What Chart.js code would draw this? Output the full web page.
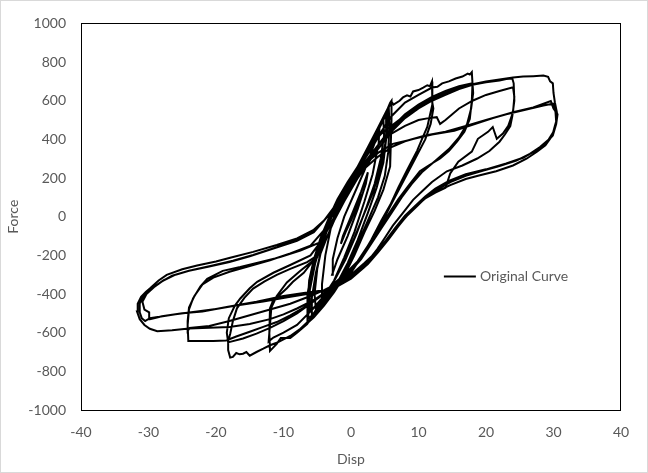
<!DOCTYPE html>
<html>
<head>
<meta charset="utf-8">
<script src="https://cdn.jsdelivr.net/npm/chart.js@4.4.0/dist/chart.umd.min.js"></script>
<style>
    html, body { margin: 0; padding: 0; background: #fff; }
    #wrap { width: 648px; height: 473px; }
</style>
</head>
<body>
<div id="wrap"><canvas id="chart-hysteresis" width="648" height="473"></canvas></div>
<script>
// [disp, force] pairs, one array per amplitude level
const loopSmall = [
    [0, 0], [0.8, 60], [1.5, 120], [1.2, 80], [0, -20], [-0.8, -80], [-1.5, -140], [-1.2, -100], [0, 0],
    [1.5, 130], [2.5, 230], [2.2, 170], [1, 40], [-0.5, -100], [-2, -220], [-2.8, -300], [-2.7, -220], [-2, -110], [-1, 0], [0.5, 120],
    [2, 240], [3.5, 380], [4.2, 450], [4.1, 380], [3.2, 220], [2, 80], [0.5, -80], [-1, -210], [-2.5, -330], [-3.8, -420], [-4.3, -450], [-4.3, -350], [-3.8, -200], [-3, -60], [-2, 60], [-0.5, 160],
    [1, 230], [2.5, 340], [3.8, 430], [4.8, 500], [4.9, 420], [4.4, 300], [3.5, 170], [2.2, 40], [0.8, -90], [-0.8, -220], [-2.3, -320], [-3.8, -410], [-5.2, -480], [-5.4, -400], [-5, -270], [-4.2, -140], [-3.2, -30], [-2, 70], [-0.5, 170],
    [1.5, 280], [3, 390], [4.5, 490], [5.3, 530], [5.2, 400], [4.8, 280], [3.8, 150], [2.5, 20], [1, -120], [-0.5, -240], [-2, -340], [-3.5, -420], [-5, -480], [-5.8, -510], [-5.8, -420], [-5.2, -290], [-4.3, -160], [-3.4, -50], [-2.3, 50], [-1, 150]
];

const loop6 = [
    [1, 250], [2.5, 350], [4, 450], [5.2, 540], [5.8, 590], [6, 600], [6, 500], [5.9, 380], [5.8, 260], [4.8, 140], [3.5, 30], [2, -80], [0.5, -200], [-1.2, -320], [-2.5, -390], [-4, -460], [-5.5, -520], [-6.4, -548], [-6.5, -500], [-6.4, -400], [-5.8, -280], [-4.8, -150], [-3.6, -40], [-2.5, 50], [-1, 140], [0.5, 230],
    [2, 320], [3.5, 420], [4.8, 500], [5.6, 560], [5.7, 470], [5.5, 330], [5, 210], [4, 100], [2.5, -20], [1, -140], [-0.5, -260], [-2, -350], [-3.5, -430], [-5, -490], [-6.3, -525], [-6.4, -440], [-6.2, -330], [-5.5, -220], [-4.5, -110], [-3.2, 0], [-2, 90], [-0.5, 180],
    [1, 260], [2.5, 360], [4, 460], [5.3, 550], [5.5, 520], [5.3, 420], [4.5, 270], [3.3, 130], [2, 20], [0.5, -110], [-1, -230], [-2.5, -330], [-4, -410], [-5.5, -470], [-6.2, -490], [-6.1, -380], [-5.3, -240], [-4.2, -110], [-3, 0]
];

const loop12 = [
    [-1.5, 90], [0, 190], [1.5, 290], [3, 380], [4.5, 480], [5.5, 560], [6, 595], [6.3, 580], [7.2, 600], [7.7, 617], [8.3, 628], [8.8, 622], [9.2, 648], [10, 655], [10.7, 668], [11.3, 680], [11.7, 675], [12, 700], [12.1, 640], [12, 580], [11.3, 464], [10.5, 400], [9.8, 342], [8.3, 240], [7, 150], [5.8, 60], [4.5, -20], [3, -120], [1.5, -210], [0, -290], [-1.5, -340], [-3, -380], [-4.5, -450], [-6.5, -556], [-8, -600], [-9, -627], [-10.4, -627], [-11, -658], [-11.6, -680], [-12, -694], [-12.1, -600], [-12, -474], [-11.5, -430], [-10.5, -403], [-9.5, -370], [-8.6, -337], [-7, -290], [-5, -200], [-4, -100], [-3, 0], [-1.5, 100], [0, 190], [1.5, 280],
    [3, 370], [4.5, 430], [6, 470], [7.5, 510], [9, 545], [10.5, 575], [12, 600], [12.2, 560], [11.8, 480], [11, 400], [9.5, 300], [8, 200], [6.5, 100], [5, 0], [3.5, -100], [2, -190], [0, -280], [-2, -350], [-4, -420], [-6, -490], [-8, -560], [-10, -600], [-11.5, -625], [-12.2, -645], [-12, -560], [-11.8, -470], [-11, -410], [-9.5, -340], [-7.5, -280], [-5, -210], [-4, -100], [-3, -10], [-1.5, 90], [0, 180]
];

const loop18 = [
    [1.5, 270], [3, 350], [4.5, 440], [6, 520], [8, 590], [10, 630], [12, 668], [12.8, 672], [13.5, 690], [14.5, 700], [15.5, 715], [16.5, 725], [17.3, 740], [17.6, 735], [17.9, 748], [18, 690], [17.9, 600], [17.6, 505], [16.8, 440], [15.7, 388], [14.5, 340], [13.2, 301], [11.5, 265], [10.2, 235], [8.5, 160], [7, 90], [5.5, 10], [4, -70], [2.5, -150], [1, -230], [-1, -300], [-3, -360], [-4.5, -440], [-6, -530], [-7.5, -580], [-9, -617], [-10, -635], [-11, -652], [-12, -665], [-13, -683], [-14, -700], [-15, -719], [-15.5, -700], [-16, -709], [-16.5, -712], [-17, -705], [-17.5, -725], [-17.9, -729], [-18.2, -690], [-18.2, -643], [-17.9, -607], [-17.5, -540], [-16.9, -474], [-15.8, -420], [-14.5, -372], [-12.8, -335], [-11, -301], [-9, -270], [-6.5, -235], [-4.5, -190], [-3.5, -100], [-2.5, -20], [-1, 80], [0.5, 170],
    [2, 260], [4, 370], [6, 460], [8, 530], [10, 580], [12, 620], [14, 650], [16, 675], [18, 690], [18.1, 640], [17.8, 560], [17.2, 480], [16, 410], [14.5, 350], [12.5, 290], [10.5, 230], [9, 170], [7.5, 100], [6, 20], [4.5, -60], [3, -140], [1.5, -220], [0, -280], [-2, -340], [-4, -400], [-6, -450], [-8, -500], [-10, -540], [-12, -575], [-14, -605], [-16, -630], [-18.2, -650], [-18.4, -600], [-18.1, -525], [-17.2, -460], [-16.4, -423], [-15, -370], [-13.9, -337], [-11.5, -290], [-9, -250], [-6, -200], [-4.5, -130], [-3, -40], [-1.5, 60], [0, 150]
];

const loop24 = [
    [2, 250], [4, 350], [6, 440], [8, 510], [10, 560], [12, 600], [14, 630], [16, 660], [18, 683], [20, 695], [22, 705], [23, 712], [23.9, 715], [24.1, 690], [24.2, 600], [23.9, 520], [23.6, 469], [22.8, 425], [22, 388], [20.5, 340], [18.7, 301], [16.5, 265], [14.2, 235], [12, 180], [10.5, 130], [9.2, 87], [7.7, 20], [6.2, -46], [5, -110], [3.9, -168], [2.5, -230], [1, -280], [-1, -330], [-3, -370], [-5, -420], [-7, -470], [-9, -510], [-11, -545], [-13, -570], [-15, -595], [-17, -620], [-18.5, -640], [-20.4, -643], [-22.5, -643], [-24.1, -643], [-24.2, -560], [-24, -480], [-23.4, -423], [-22.3, -360], [-21.3, -321], [-19, -280], [-16.4, -260], [-13.5, -235], [-10.5, -209], [-7.5, -175], [-4.6, -133], [-3.2, -50], [-2, 30], [-0.5, 130], [1, 220],
    [2.5, 300], [4.5, 390], [6, 430], [8, 470], [10, 500], [11.5, 510], [12.7, 515], [13.2, 480], [14, 500], [16, 560], [18, 600], [20, 630], [22, 650], [24, 670], [24.2, 620], [24, 540], [23.3, 470], [22.5, 430], [21.6, 403], [21, 464], [20.3, 439], [18.8, 403], [17.9, 337], [15.9, 285], [14.7, 224], [14, 150], [12.5, 125], [11, 95], [9.5, 50], [8, 0], [6.5, -60], [5, -130], [3.5, -190], [2, -240], [0, -300], [-2, -345], [-4, -380], [-6, -410], [-9, -450], [-12, -480], [-15, -510], [-18, -540], [-21, -565], [-23.9, -576], [-24.2, -590], [-24.2, -540], [-24, -470], [-23.2, -410], [-22, -350], [-20.4, -315], [-18, -285], [-15, -255], [-12, -225], [-9, -190], [-6, -150], [-4, -70], [-2.5, 20], [-1, 110], [0.5, 200]
];

const loop30 = [
    [2, 280], [4, 370], [6, 450], [8, 520], [10, 570], [12, 610], [14, 640], [16, 665], [18, 685], [20, 700], [22, 710], [24, 720], [25.5, 725], [27, 727], [28.5, 730], [29.2, 724], [29.5, 700], [29.9, 690], [30, 640], [30.2, 592], [30.5, 540], [30.5, 505], [30.2, 469], [29.9, 430], [29.5, 403], [28.8, 370], [27.6, 337], [26, 300], [24, 265], [21.5, 235], [19.1, 214], [17, 195], [14.7, 163], [13, 135], [11.3, 107], [9.8, 55], [8.3, 5], [6.8, -55], [5.3, -117], [3.8, -180], [2, -250], [0, -310], [-2, -350], [-4, -400], [-6, -440], [-8, -475], [-10, -505], [-12, -530], [-15, -555], [-18, -570], [-21, -575], [-24, -578], [-26.5, -588], [-28.7, -592], [-29.8, -580], [-30.6, -560], [-31.3, -530], [-31.7, -490], [-31.6, -450], [-31.1, -415], [-30.4, -390], [-29.8, -372], [-28.5, -330], [-27.3, -301], [-25, -272], [-22.8, -252], [-20, -232], [-17.9, -212], [-14.5, -182], [-11, -146], [-8, -112], [-5.6, -70], [-4, -20], [-2.5, 50], [-1, 130], [0.5, 210],
    [2, 270], [4, 330], [6.2, 377], [9, 400], [12, 425], [15.3, 445], [18, 475], [21.5, 515], [24, 540], [27, 565], [29.6, 598], [30, 560], [30.6, 530], [30.4, 480], [29.9, 420], [29, 385], [27.5, 345], [25.5, 305], [23, 275], [20, 245], [17, 220], [14.5, 185], [12.5, 145], [11, 105], [9.5, 55], [8, 5], [6.5, -60], [5, -130], [3.5, -200], [2, -260], [0, -320], [-2, -360], [-4, -385], [-6.5, -400], [-9.2, -415], [-13, -439], [-17, -460], [-20, -478], [-22.8, -490], [-26, -505], [-29.8, -525], [-30.5, -540], [-31, -525], [-31.3, -495], [-31.3, -450], [-30.7, -405], [-29.5, -370], [-28, -335], [-26.5, -305], [-24, -280], [-21, -258], [-18, -235], [-15, -205], [-11.5, -165], [-8, -125], [-5.5, -80], [-4, -20], [-2.5, 50], [-1, 130], [0.5, 200],
    [2, 250], [4, 310], [6, 360], [8, 390], [11, 420], [14, 440], [17, 470], [20, 500], [23, 530], [26, 555], [28.5, 575], [30, 585], [30.3, 540], [30.4, 490], [30, 440], [29.3, 400], [28, 360], [26.5, 325], [24.5, 290], [22, 262], [19.5, 238], [17, 212], [14.8, 180], [13, 145], [11.5, 110], [10, 65], [8.5, 15], [7, -50], [5.5, -120], [4, -185], [2.5, -245], [0.5, -305], [-1.5, -350], [-4, -380], [-7, -395], [-10, -410], [-14, -440], [-18, -465], [-22, -490], [-25, -500], [-28, -515], [-29.8, -530], [-29.9, -495], [-30.6, -480], [-30.9, -440], [-30.3, -400], [-29.2, -365], [-27.8, -330], [-26, -300], [-23.5, -275], [-20.5, -252], [-17.5, -228], [-14.5, -198], [-11, -158], [-8, -120], [-5.5, -75], [-4, -20], [-3, 20]
];

const xTicks = { min: -40, max: 40, step: 10 };
const yTicks = { min: -1000, max: 1000, step: 200 };
const seriesName = 'Original Curve';

const textColor = '#595959';
const fontFamily = "Lato, 'Open Sans', sans-serif";

// frame around plot + legend drawn inside the plot area
const framePlugin = {
    id: 'frame',
    afterDraw(chart) {
        const { ctx, chartArea: a } = chart;
        ctx.save();
        ctx.strokeStyle = '#d9d9d9';
        ctx.lineWidth = 1;
        ctx.strokeRect(0.5, 0.5, chart.width - 1, chart.height - 1);
        ctx.strokeStyle = '#000';
        ctx.strokeRect(Math.round(a.left) + 0.5, Math.round(a.top) + 0.5, Math.round(a.right - a.left) - 1, Math.round(a.bottom - a.top));

        const lx = a.left + (a.right - a.left) * 0.672;
        const ly = a.top + (a.bottom - a.top) * 0.655;
        ctx.strokeStyle = '#000';
        ctx.lineWidth = 2;
        ctx.beginPath();
        ctx.moveTo(lx, ly);
        ctx.lineTo(lx + 32, ly);
        ctx.stroke();
        ctx.fillStyle = textColor;
        ctx.font = '14px ' + fontFamily;
        ctx.textBaseline = 'middle';
        ctx.fillText(seriesName, lx + 36, ly);
        ctx.restore();
    }
};

function initChart() {
    const points = [].concat(loopSmall, loop6, loop12, loop18, loop24, loop30).map(p => ({ x: p[0], y: p[1] }));

    new Chart(document.getElementById('chart-hysteresis'), {
        type: 'scatter',
        data: {
            datasets: [{
                label: seriesName,
                data: points,
                showLine: true,
                borderColor: '#000',
                borderWidth: 2,
                pointRadius: 0,
                tension: 0
            }]
        },
        options: {
            responsive: false,
            animation: false,
            layout: { padding: { left: 0, right: 27, top: 18, bottom: 0 } },
            plugins: {
                legend: { display: false },
                tooltip: { enabled: false }
            },
            scales: {
                x: {
                    type: 'linear',
                    min: xTicks.min,
                    max: xTicks.max,
                    grid: { display: false, drawTicks: false },
                    border: { display: false },
                    ticks: { stepSize: xTicks.step, color: textColor, padding: 14, font: { size: 14, family: fontFamily }, callback: v => String(v) },
                    title: { display: true, text: 'Disp', color: textColor, padding: { top: 4, bottom: 5 }, font: { size: 14, family: fontFamily } },
                    afterFit: s => { s.height = 63; }
                },
                y: {
                    min: yTicks.min,
                    max: yTicks.max,
                    grid: { display: false, drawTicks: false },
                    border: { display: false },
                    ticks: { stepSize: yTicks.step, color: textColor, padding: 15, font: { size: 14, family: fontFamily }, callback: v => String(v) },
                    title: { display: true, text: 'Force', color: textColor, padding: { top: 5, bottom: 4 }, font: { size: 14, family: fontFamily } },
                    afterFit: s => { s.width = 81; }
                }
            }
        },
        plugins: [framePlugin]
    });
}

document.addEventListener('DOMContentLoaded', initChart);
</script>
</body>
</html>
